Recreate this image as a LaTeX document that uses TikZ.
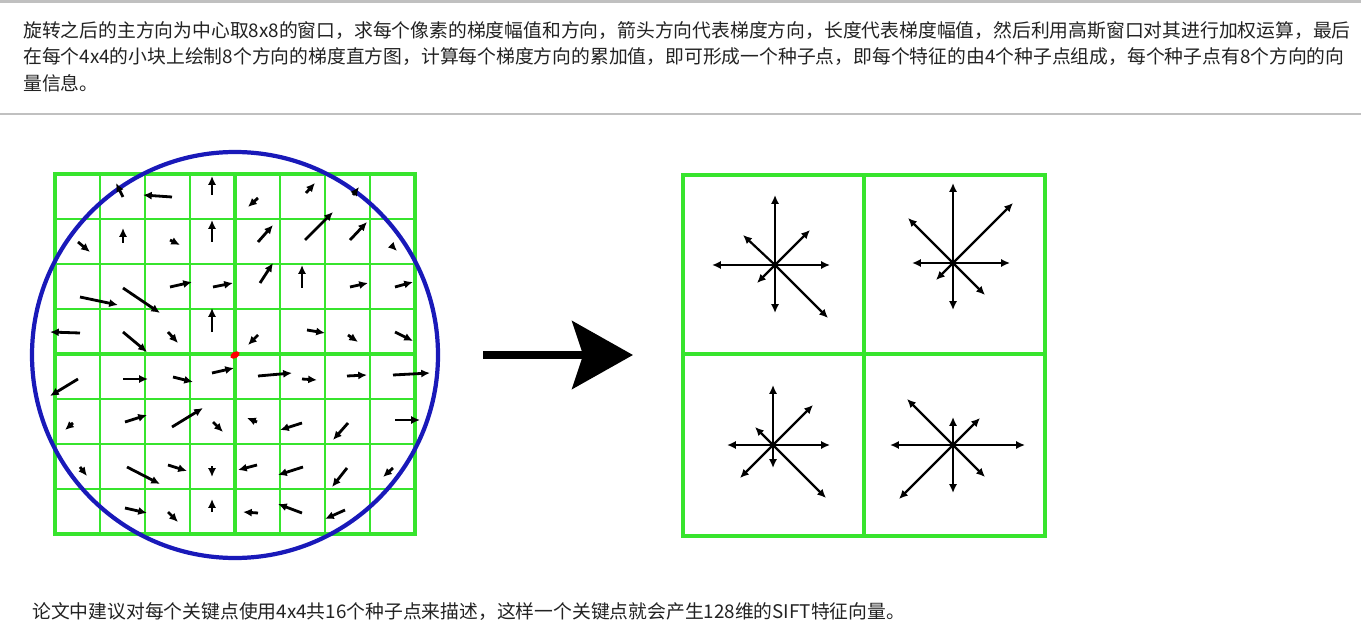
\documentclass[tikz,border=0pt]{standalone}
\usepackage{fontspec}
\newfontfamily\cjk{Noto Sans CJK SC}
\usetikzlibrary{arrows.meta}

\definecolor{gridgreen}{RGB}{55,228,45}
\definecolor{ringblue}{RGB}{25,25,185}
\definecolor{rulegray}{RGB}{192,192,192}
\definecolor{textgray}{RGB}{34,34,34}

\begin{document}
\begin{tikzpicture}[x=0.02cm,y=-0.02cm,
    txt/.style={anchor=west,inner sep=0pt,text=textgray,font=\cjk\fontsize{10.7pt}{13pt}\selectfont},
    thin grid/.style={gridgreen,line width=1.1pt},
    thick grid/.style={gridgreen,line width=2.3pt},
    grad/.style={line width=1.6pt,-{Latex[length=5pt,width=4.6pt]}},
    vec/.style={line width=1.25pt,-{Latex[length=5pt,width=4.6pt]}}]
  \useasboundingbox (0,0) rectangle (1361,638);

  \draw[rulegray,line width=1.3pt] (0,1.5) -- (1361,1.5) (0,114) -- (1361,114);
  \node[txt] (para1) at (23,31) {旋转之后的主方向为中心取8x8的窗口，求每个像素的梯度幅值和方向，箭头方向代表梯度方向，长度代表梯度幅值，然后利用高斯窗口对其进行加权运算，最后};
  \node[txt] (para2) at (23,57) {在每个4x4的小块上绘制8个方向的梯度直方图，计算每个梯度方向的累加值，即可形成一个种子点，即每个特征的由4个种子点组成，每个种子点有8个方向的向};
  \node[txt] (para3) at (23,83) {量信息。};

  \foreach \i in {1,2,3,5,6,7} {
    \draw[thin grid] (55+45*\i,174) -- (55+45*\i,534);
    \draw[thin grid] (55,174+45*\i) -- (415,174+45*\i);
  }
  \draw[thick grid] (55,174) rectangle (415,534) (235,174) -- (235,534) (55,354) -- (415,354);
  \coordinate (key) at (235,355);
  \draw[ringblue,line width=2.4pt] (key) circle[radius=203];
  \fill[red,rotate around={30:(key)}] (key) ellipse[x radius=5,y radius=3.2];

  \foreach \ax/\ay/\bx/\by in {
      123/197/116/183, 172/197/143/195, 212/195/212/176, 258/198/248/207,
      306/193/315/183, 353/195/359/187,
      78/242/90/252, 123/243/123/228, 170/240/180/245, 212/242/212/220,
      258/242/273/225, 305/240/333/212, 350/240/367/222, 391/245/397/251,
      80/297/118/305, 123/288/160/313, 170/287/192/282, 213/287/233/283,
      260/283/273/263, 302/288/302/265, 350/287/368/283, 395/287/413/282,
      80/333/50/332, 123/332/147/352, 168/332/178/343, 212/332/212/308,
      258/335/248/345, 307/330/325/333, 348/335/358/342, 395/332/413/341,
      78/379/50/396, 123/379/148/379, 173/377/193/382, 212/373/234/368,
      258/376/292/373, 302/379/317/380, 347/376/367/375, 393/375/430/373,
      73/423/65/430, 125/422/147/415, 172/427/203/408, 213/422/223/432,
      257/422/247/418, 302/423/280/430, 348/423/333/440, 395/420/420/420,
      80/467/87/476, 127/467/160/484, 168/465/187/471, 212/466/212/477,
      257/465/238/470, 303/467/278/475, 347/468/332/487, 393/468/383/477,
      125/508/147/513, 168/512/178/522, 212/512/212/499, 258/513/243/512,
      302/513/278/504, 345/510/325/519}
    \draw[grad] (\ax,\ay) -- (\bx,\by);

  \coordinate (from) at (483,355);
  \coordinate (to) at (633,355);
  \draw[line width=4.5pt,-{Stealth[length=34.6pt,width=38.5pt,inset=6.2pt]}] (from) -- (to);

  \draw[thick grid] (683,175) rectangle (1045,536) (864,175) -- (864,536) (683,354) -- (1045,354);
  \coordinate (s1) at (775,265);
  \coordinate (s2) at (953,263);
  \coordinate (s3) at (773,445);
  \coordinate (s4) at (953,445);
  \foreach \s/\dx/\dy in {
      1/0/-70, 1/35/-35, 1/55/0, 1/53/53, 1/0/48, 1/-18/18, 1/-63/0, 1/-32/-30,
      2/0/-80, 2/60/-60, 2/57/0, 2/32/32, 2/0/47, 2/-17/17, 2/-41/0, 2/-45/-45,
      3/0/-60, 3/40/-40, 3/57/0, 3/53/53, 3/0/23, 3/-33/33, 3/-46/0, 3/-18/-18,
      4/0/-28, 4/27/-27, 4/72/0, 4/32/32, 4/0/48, 4/-54/54, 4/-63/0, 4/-46/-46}
    \draw[vec] (s\s) -- ++(\dx,\dy);
  \foreach \s in {1,2,3,4}
    \fill (s\s) circle[radius=3.5];

  \node[txt] (note) at (32,612) {论文中建议对每个关键点使用4x4共16个种子点来描述，这样一个关键点就会产生128维的SIFT特征向量。};
\end{tikzpicture}
\end{document}
